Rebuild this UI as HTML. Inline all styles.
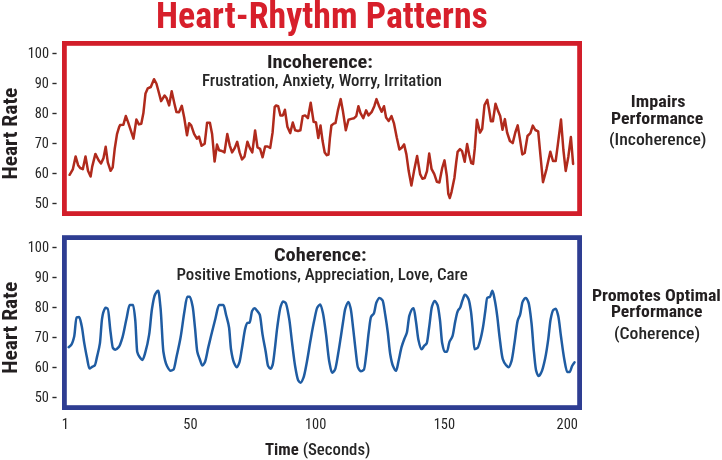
<!DOCTYPE html>
<html><head><meta charset="utf-8"><style>
html,body{margin:0;padding:0;background:#fff;width:722px;height:460px;overflow:hidden}
svg{display:block}
text{font-family:'Roboto Condensed', 'Liberation Sans', sans-serif}
.yl{font-size:14.4px;fill:#262626;text-anchor:end}
.xl{font-size:14.4px;fill:#262626}
.tk{stroke:#2a2a2a;stroke-width:1.4}
.ax{font-weight:700;font-size:21px;fill:#231f20}
</style></head><body>
<svg width="722" height="460" viewBox="0 0 722 460">
<rect x="64.4" y="43.4" width="515.2" height="170.2" fill="none" stroke="#d21e2a" stroke-width="4.8"/>
<rect x="64.4" y="237.6" width="515.2" height="170" fill="none" stroke="#2e3d92" stroke-width="4.8"/>
<text x="49.0" y="57.8" class="yl" textLength="21.33" lengthAdjust="spacingAndGlyphs">100</text><line x1="52.4" y1="53.5" x2="56.6" y2="53.5" class="tk"/><text x="49.0" y="87.8" class="yl" textLength="14.22" lengthAdjust="spacingAndGlyphs">90</text><line x1="52.4" y1="83.5" x2="56.6" y2="83.5" class="tk"/><text x="49.0" y="117.8" class="yl" textLength="14.22" lengthAdjust="spacingAndGlyphs">80</text><line x1="52.4" y1="113.5" x2="56.6" y2="113.5" class="tk"/><text x="49.0" y="147.8" class="yl" textLength="14.22" lengthAdjust="spacingAndGlyphs">70</text><line x1="52.4" y1="143.5" x2="56.6" y2="143.5" class="tk"/><text x="49.0" y="177.8" class="yl" textLength="14.22" lengthAdjust="spacingAndGlyphs">60</text><line x1="52.4" y1="173.5" x2="56.6" y2="173.5" class="tk"/><text x="49.0" y="207.8" class="yl" textLength="14.22" lengthAdjust="spacingAndGlyphs">50</text><line x1="52.4" y1="203.5" x2="56.6" y2="203.5" class="tk"/>
<text x="49.0" y="251.8" class="yl" textLength="21.33" lengthAdjust="spacingAndGlyphs">100</text><line x1="52.4" y1="247.5" x2="56.6" y2="247.5" class="tk"/><text x="49.0" y="281.8" class="yl" textLength="14.22" lengthAdjust="spacingAndGlyphs">90</text><line x1="52.4" y1="277.5" x2="56.6" y2="277.5" class="tk"/><text x="49.0" y="311.8" class="yl" textLength="14.22" lengthAdjust="spacingAndGlyphs">80</text><line x1="52.4" y1="307.5" x2="56.6" y2="307.5" class="tk"/><text x="49.0" y="341.8" class="yl" textLength="14.22" lengthAdjust="spacingAndGlyphs">70</text><line x1="52.4" y1="337.5" x2="56.6" y2="337.5" class="tk"/><text x="49.0" y="371.8" class="yl" textLength="14.22" lengthAdjust="spacingAndGlyphs">60</text><line x1="52.4" y1="367.5" x2="56.6" y2="367.5" class="tk"/><text x="49.0" y="401.8" class="yl" textLength="14.22" lengthAdjust="spacingAndGlyphs">50</text><line x1="52.4" y1="397.5" x2="56.6" y2="397.5" class="tk"/>
<path d="M69.6 174.8 L72.8 169.4 L75.6 156.4 L78.1 165.2 L80.2 168.0 L82.8 169.2 L85.5 156.4 L88.0 170.8 L90.6 176.5 L92.2 166.6 L95.4 153.9 L98.6 160.3 L101.0 163.5 L103.5 158.1 L105.7 146.8 L107.8 162.4 L110.6 170.8 L112.7 167.3 L114.8 148.2 L117.0 134.1 L119.1 127.1 L120.1 125.1 L123.4 124.7 L125.8 116.0 L127.9 121.6 L130.7 130.1 L133.5 138.6 L136.4 119.5 L138.9 124.4 L141.3 123.7 L143.4 113.1 L145.5 93.4 L147.7 88.4 L150.8 87.0 L154.0 79.2 L156.4 83.5 L158.3 90.5 L161.1 101.1 L164.6 95.5 L166.7 98.3 L169.1 105.4 L171.7 91.2 L174.5 104.0 L176.4 111.9 L179.0 112.3 L181.8 105.8 L184.2 117.5 L187.0 135.2 L189.1 123.2 L191.2 125.3 L194.1 133.8 L196.9 138.7 L199.0 136.6 L201.6 145.8 L204.7 143.7 L207.1 122.7 L209.9 122.7 L212.1 134.0 L214.6 161.6 L217.0 144.6 L219.1 150.3 L221.9 151.0 L224.5 152.4 L227.3 134.0 L229.7 145.3 L232.1 152.4 L234.7 148.1 L237.2 141.8 L239.6 152.4 L242.0 159.4 L244.5 156.6 L247.4 141.8 L249.9 148.1 L252.3 152.4 L255.1 130.5 L257.5 147.4 L260.1 148.8 L262.6 157.3 L265.1 146.5 L267.6 146.5 L270.2 147.9 L272.6 132.4 L274.7 106.9 L276.1 105.5 L278.2 106.2 L280.4 115.4 L282.9 115.4 L284.9 109.8 L287.4 126.7 L290.2 133.1 L292.8 122.5 L295.2 130.3 L298.0 131.0 L300.4 130.3 L302.7 116.1 L305.1 115.4 L307.9 118.2 L310.7 102.7 L313.6 121.8 L316.0 122.5 L318.3 138.0 L320.5 125.4 L322.6 141.1 L324.7 152.4 L326.8 155.2 L328.5 154.5 L329.9 138.2 L331.4 125.5 L334.0 123.4 L335.5 123.1 L337.9 110.4 L340.7 99.1 L342.8 110.4 L345.8 130.3 L348.5 119.8 L351.3 118.9 L354.1 118.2 L356.3 116.1 L358.4 106.2 L360.5 113.2 L363.3 118.2 L366.1 110.4 L368.5 115.4 L371.8 111.8 L374.3 106.2 L376.5 99.1 L379.1 106.2 L381.6 111.8 L384.0 106.2 L386.1 117.5 L388.7 121.0 L391.5 116.1 L393.9 123.1 L396.7 137.3 L399.4 149.5 L401.7 147.7 L404.1 144.4 L406.4 154.4 L408.7 171.1 L411.4 185.6 L414.0 171.1 L417.1 155.9 L420.1 174.1 L422.4 178.7 L424.7 178.0 L427.0 171.1 L429.2 153.6 L431.5 168.8 L434.3 174.1 L436.9 181.8 L439.4 182.5 L442.2 168.0 L444.5 160.4 L446.8 175.7 L448.3 193.9 L449.8 198.0 L451.5 192.1 L454.4 178.0 L456.2 162.5 L457.6 151.9 L460.0 149.1 L462.1 151.2 L464.7 161.8 L467.1 144.1 L469.2 154.7 L471.3 163.2 L473.1 163.9 L474.8 148.4 L476.9 119.7 L480.0 132.6 L482.2 128.8 L484.5 105.2 L487.3 99.9 L489.1 109.8 L490.9 121.2 L492.9 121.2 L495.5 103.7 L498.2 111.3 L500.2 116.0 L502.5 129.7 L504.9 119.1 L507.1 132.5 L509.9 141.0 L512.7 143.1 L515.3 132.5 L517.7 125.4 L519.8 138.1 L522.3 154.4 L524.7 153.0 L527.5 136.0 L530.4 133.2 L532.8 125.6 L535.3 130.0 L538.2 131.4 L540.6 157.0 L543.0 182.2 L546.5 169.1 L550.3 151.7 L553.0 161.0 L555.7 161.0 L557.8 144.8 L561.0 119.6 L563.4 150.0 L565.7 170.9 L568.3 157.0 L570.9 137.0 L573.1 163.9" fill="none" stroke="#b02a1c" stroke-width="2.5" stroke-linejoin="round" stroke-linecap="round"/>
<path d="M68.7 347.2 C69.6 346.4 70.4 346.0 71.3 344.8 C72.3 343.5 73.2 340.7 74.2 336.5 C75.0 333.2 75.7 317.6 76.5 317.4 C77.4 317.1 78.2 317.0 79.1 317.0 C80.0 317.0 80.8 322.0 81.7 326.0 C82.6 330.0 83.4 338.2 84.3 343.4 C85.2 348.6 86.0 353.1 86.9 357.3 C87.8 361.5 88.6 368.6 89.5 368.6 C90.4 368.6 91.2 367.3 92.1 366.8 C93.0 366.3 93.8 366.3 94.7 365.6 C95.6 364.9 96.4 359.3 97.3 355.6 C98.2 351.9 99.0 349.3 99.9 343.4 C100.6 338.7 101.3 323.8 102.0 319.1 C102.5 316.0 102.9 313.6 103.4 312.2 C104.1 310.1 104.8 307.8 105.5 307.8 C106.2 307.8 107.0 308.2 107.7 308.7 C108.7 309.4 109.6 325.5 110.6 332.5 C111.4 338.3 112.2 347.1 113.0 348.1 C113.8 349.1 114.5 349.7 115.3 349.7 C116.5 349.7 117.7 348.3 118.9 346.9 C120.1 345.5 121.3 341.3 122.5 337.3 C123.9 332.7 125.2 324.2 126.6 318.2 C127.6 313.6 128.7 305.1 129.7 305.1 C130.8 305.1 132.0 305.1 133.1 305.1 C133.8 305.1 134.6 313.3 135.3 320.6 C135.9 326.9 136.6 349.2 137.2 351.7 C138.1 355.4 139.1 356.3 140.0 357.6 C140.8 358.7 141.6 360.0 142.4 360.0 C143.4 360.0 144.5 355.2 145.5 351.7 C146.7 347.6 147.9 342.4 149.1 334.9 C150.1 328.9 151.0 314.7 152.0 308.7 C153.0 302.3 154.1 296.2 155.1 294.3 C156.1 292.4 157.2 290.7 158.2 290.7 C159.0 290.7 159.8 300.7 160.6 308.7 C161.5 318.0 162.5 345.7 163.4 351.7 C164.6 359.5 165.8 363.6 167.0 366.0 C168.2 368.4 169.4 370.8 170.6 370.8 C171.6 370.8 172.5 370.3 173.5 369.6 C174.5 368.8 175.6 361.0 176.6 356.4 C177.9 350.4 179.3 344.8 180.6 337.3 C181.9 330.0 183.2 318.5 184.5 311.0 C185.4 305.6 186.4 296.7 187.3 296.7 C188.1 296.7 188.9 296.7 189.7 296.7 C190.7 296.7 191.6 301.6 192.6 306.3 C193.4 310.2 194.2 320.1 195.0 327.8 C195.8 335.2 196.5 348.1 197.3 351.7 C198.1 355.5 198.9 356.8 199.7 359.0 C200.6 361.4 201.5 365.5 202.4 365.5 C203.2 365.5 204.0 363.9 204.8 362.4 C206.0 360.1 207.2 351.9 208.4 346.9 C209.6 342.0 210.7 337.2 211.9 332.5 C213.1 327.6 214.3 322.8 215.5 318.2 C216.7 313.6 217.9 305.1 219.1 305.1 C220.5 305.1 222.0 305.1 223.4 305.1 C224.4 305.1 225.3 312.0 226.3 315.8 C227.2 319.5 228.2 321.8 229.1 327.8 C229.7 331.9 230.4 345.1 231.0 349.3 C232.0 355.7 232.9 360.2 233.9 362.4 C234.9 364.8 236.0 367.2 237.0 367.2 C237.8 367.2 238.6 364.7 239.4 362.4 C240.2 360.1 241.0 353.8 241.8 349.3 C243.0 342.5 244.2 331.9 245.4 327.8 C246.0 325.6 246.7 323.3 247.3 323.0 C248.1 322.7 248.9 322.8 249.7 322.5 C250.5 322.2 251.3 312.5 252.1 311.0 C252.9 309.5 253.7 308.2 254.5 308.2 C255.4 308.2 256.4 309.9 257.3 311.0 C258.1 312.0 258.9 312.7 259.7 314.6 C260.7 316.9 261.6 329.0 262.6 334.9 C263.6 341.2 264.7 345.8 265.7 351.7 C266.5 356.3 267.3 364.4 268.1 366.0 C268.9 367.6 269.7 368.8 270.5 368.8 C271.2 368.8 271.9 367.0 272.6 365.0 C273.3 362.9 274.1 355.1 274.8 349.3 C275.6 343.0 276.4 333.7 277.2 327.8 C278.4 319.2 279.5 309.7 280.7 306.3 C281.5 304.0 282.3 301.5 283.1 301.5 C283.9 301.5 284.7 302.0 285.5 302.7 C286.7 303.7 287.9 311.3 289.1 318.2 C290.1 323.7 291.0 334.4 292.0 342.1 C293.0 350.3 294.1 360.0 295.1 366.0 C296.1 372.0 297.2 378.6 298.2 380.3 C299.0 381.6 299.8 382.7 300.6 382.7 C301.5 382.7 302.5 380.2 303.4 377.9 C304.6 375.0 305.8 367.5 307.0 361.2 C308.2 354.9 309.4 346.4 310.6 339.7 C311.8 333.0 313.0 326.2 314.2 320.6 C315.2 315.8 316.3 309.3 317.3 307.5 C318.3 305.9 319.2 304.4 320.2 304.4 C321.1 304.4 322.1 309.3 323.0 313.4 C324.0 317.9 325.1 327.0 326.1 334.9 C327.1 342.8 328.2 355.6 329.2 361.2 C330.2 366.4 331.1 372.7 332.1 372.7 C333.1 372.7 334.0 371.3 335.0 369.6 C336.0 367.8 337.1 359.8 338.1 354.0 C339.0 349.0 339.9 342.8 340.8 337.0 C341.5 332.5 342.2 327.4 342.9 323.0 C343.7 318.0 344.5 311.3 345.3 308.7 C346.3 305.4 347.4 302.0 348.4 302.0 C349.2 302.0 349.9 305.4 350.7 308.7 C351.5 312.1 352.3 321.1 353.1 327.8 C353.9 334.5 354.7 342.8 355.5 349.3 C356.3 355.8 357.1 365.4 357.9 367.2 C358.9 369.5 360.0 371.2 361.0 371.2 C362.0 371.2 362.9 370.6 363.9 369.6 C364.7 368.8 365.5 360.0 366.3 354.0 C367.1 348.0 367.9 338.6 368.7 332.5 C369.5 326.6 370.2 318.7 371.0 317.0 C372.0 314.9 372.9 315.3 373.9 313.4 C374.7 311.8 375.5 304.6 376.3 302.7 C377.3 300.3 378.4 297.9 379.4 297.9 C380.4 297.9 381.5 298.9 382.5 300.3 C383.5 301.6 384.4 309.9 385.4 315.8 C386.2 320.7 387.0 326.2 387.8 332.5 C388.6 338.8 389.4 349.3 390.2 354.0 C391.1 359.5 392.1 363.9 393.0 366.0 C394.0 368.4 395.1 370.8 396.1 370.8 C396.9 370.8 397.7 364.6 398.5 361.2 C399.5 356.8 400.6 350.6 401.6 346.9 C402.6 343.5 403.5 341.1 404.5 338.5 C405.3 336.4 406.1 335.4 406.9 332.5 C407.7 329.6 408.5 318.5 409.3 315.8 C410.5 311.9 411.6 309.1 412.8 308.5 C413.1 308.4 413.3 308.2 413.6 308.2 C414.4 308.2 415.2 316.6 416.0 321.8 C416.8 327.0 417.6 336.1 418.4 339.7 C419.4 344.3 420.5 349.3 421.5 349.3 C422.4 349.3 423.4 346.7 424.3 345.7 C425.1 344.8 425.9 344.7 426.7 343.3 C427.5 341.9 428.3 333.3 429.1 327.8 C430.1 321.1 431.0 309.4 432.0 306.3 C432.9 303.6 433.7 301.0 434.6 301.0 C435.6 301.0 436.5 302.8 437.5 305.1 C438.3 307.0 439.1 313.3 439.9 319.4 C440.7 325.2 441.4 339.3 442.2 343.3 C443.0 347.5 443.8 351.7 444.6 351.7 C445.4 351.7 446.2 351.7 447.0 351.7 C447.8 351.7 448.6 344.2 449.4 342.1 C450.4 339.4 451.5 339.1 452.5 336.1 C453.5 333.3 454.4 325.0 455.4 320.6 C456.2 317.0 457.0 312.7 457.8 311.0 C458.6 309.3 459.4 309.1 460.2 307.5 C461.0 306.0 461.7 302.3 462.5 300.3 C463.3 298.2 464.1 294.8 464.9 294.8 C466.1 294.8 467.3 296.7 468.5 299.1 C469.3 300.7 470.1 305.6 470.9 311.0 C471.5 314.8 472.0 321.8 472.6 327.8 C473.2 334.5 473.9 349.3 474.5 349.3 C475.5 349.3 476.4 348.8 477.4 348.1 C478.4 347.4 479.5 342.9 480.5 339.2 C481.3 336.3 482.1 332.3 482.9 327.8 C483.7 323.3 484.5 316.6 485.3 311.0 C485.9 306.6 486.6 298.4 487.2 297.9 C488.1 297.1 489.1 297.4 490.0 296.7 C490.8 296.1 491.6 290.7 492.4 290.7 C493.2 290.7 494.0 296.3 494.8 300.3 C495.6 304.3 496.4 309.8 497.2 315.8 C498.0 321.8 498.8 331.0 499.6 337.3 C500.6 345.4 501.7 355.7 502.7 358.8 C503.7 361.9 504.8 363.6 505.8 364.8 C506.8 365.9 507.7 367.2 508.7 367.2 C509.6 367.2 510.6 364.1 511.5 361.2 C512.5 357.9 513.6 348.8 514.6 342.1 C515.6 335.4 516.7 324.3 517.7 320.6 C518.5 317.7 519.3 317.3 520.1 314.6 C521.0 311.7 521.8 303.2 522.7 301.5 C523.7 299.5 524.7 297.9 525.7 297.9 C526.6 297.9 527.6 300.0 528.5 302.5 C529.5 305.1 530.5 314.2 531.5 323.0 C532.3 330.0 533.1 343.9 533.9 351.7 C534.7 359.2 535.4 368.2 536.2 370.8 C537.0 373.6 537.8 376.0 538.6 376.0 C539.6 376.0 540.5 373.9 541.5 372.0 C542.7 369.6 543.9 364.4 545.1 358.8 C546.1 354.0 547.2 347.1 548.2 339.7 C549.0 334.0 549.8 323.3 550.6 319.4 C551.5 314.8 552.5 310.7 553.4 309.9 C554.2 309.2 555.0 308.7 555.8 308.7 C556.6 308.7 557.4 312.5 558.2 315.8 C559.2 319.8 560.1 330.4 561.1 337.3 C562.1 344.7 563.2 353.3 564.2 358.8 C565.2 364.3 566.3 372.0 567.3 372.0 C568.1 372.0 568.9 372.0 569.7 372.0 C570.5 372.0 571.3 367.5 572.1 366.0 C572.9 364.5 573.7 363.6 574.5 362.4" fill="none" stroke="#1f5ca2" stroke-width="2.5" stroke-linejoin="round" stroke-linecap="round"/>
<text x="156.01" y="27.7" textLength="331.85" lengthAdjust="spacingAndGlyphs" style="font-size:36px;font-weight:700;fill:#d71f2b">Heart-Rhythm Patterns</text>
<text x="266.93" y="67.6" textLength="106.03" lengthAdjust="spacingAndGlyphs" style="font-size:19px;font-weight:700;fill:#231f20">Incoherence:</text>
<text x="201.96" y="85.6" textLength="240.10" lengthAdjust="spacingAndGlyphs" style="font-size:16px;font-weight:500;fill:#262626">Frustration, Anxiety, Worry, Irritation</text>
<text x="273.95" y="261.4" textLength="92.61" lengthAdjust="spacingAndGlyphs" style="font-size:19px;font-weight:700;fill:#231f20">Coherence:</text>
<text x="176.47" y="279.8" textLength="291.28" lengthAdjust="spacingAndGlyphs" style="font-size:16px;font-weight:500;fill:#262626">Positive Emotions, Appreciation, Love, Care</text>
<text x="630.87" y="107.4" textLength="54.62" lengthAdjust="spacingAndGlyphs" style="font-size:16px;font-weight:700;fill:#231f20">Impairs</text>
<text x="610.90" y="123.6" textLength="92.42" lengthAdjust="spacingAndGlyphs" style="font-size:16px;font-weight:700;fill:#231f20">Performance</text>
<text x="608.91" y="145.3" textLength="97.63" lengthAdjust="spacingAndGlyphs" style="font-size:16.5px;font-weight:500;fill:#262626">(Incoherence)</text>
<text x="591.95" y="301.4" textLength="128.94" lengthAdjust="spacingAndGlyphs" style="font-size:16px;font-weight:700;fill:#231f20">Promotes Optimal</text>
<text x="610.96" y="317.0" textLength="91.40" lengthAdjust="spacingAndGlyphs" style="font-size:16px;font-weight:700;fill:#231f20">Performance</text>
<text x="613.93" y="339.2" textLength="86.21" lengthAdjust="spacingAndGlyphs" style="font-size:16.5px;font-weight:500;fill:#262626">(Coherence)</text>
<text x="265.01" y="454.5" textLength="105.46" lengthAdjust="spacingAndGlyphs" style="font-size:16px;font-weight:500;fill:#262626"><tspan font-weight="700" fill="#231f20">Time</tspan> (Seconds)</text>

<text class="ax" transform="translate(17,179.6) rotate(-90)" textLength="92" lengthAdjust="spacingAndGlyphs">Heart Rate</text>
<text class="ax" transform="translate(17,373.8) rotate(-90)" textLength="92" lengthAdjust="spacingAndGlyphs">Heart Rate</text>
<text class="xl" x="61.8" y="429.1" textLength="7.11" lengthAdjust="spacingAndGlyphs">1</text>
<text class="xl" x="183.3" y="429.1" textLength="14.22" lengthAdjust="spacingAndGlyphs">50</text>
<text class="xl" x="305" y="429.1" textLength="21.33" lengthAdjust="spacingAndGlyphs">100</text>
<text class="xl" x="433.7" y="429.1" textLength="21.33" lengthAdjust="spacingAndGlyphs">150</text>
<text class="xl" x="556.6" y="429.1" textLength="21.33" lengthAdjust="spacingAndGlyphs">200</text>
</svg>
</body></html>
